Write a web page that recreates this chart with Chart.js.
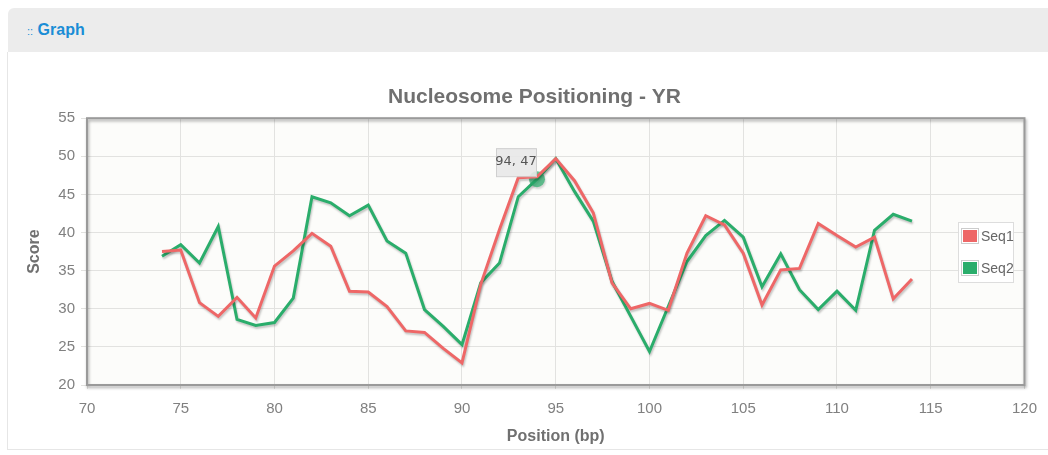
<!DOCTYPE html>
<html>
<head>
<meta charset="utf-8">
<title>Nucleosome Positioning - YR</title>
<script src="https://cdn.jsdelivr.net/npm/chart.js@4.4.1/dist/chart.umd.min.js"></script>
<style>
  html, body { margin: 0; padding: 0; background: #fff; width: 1048px; height: 455px; overflow: hidden; }
  .head { position: absolute; left: 8px; top: 8px; width: 1040px; height: 44px; background: #ececec; border-top-left-radius: 6px; }
  .head span { position: absolute; left: 19px; top: 13px; font: bold 16px "Liberation Sans", Arial, sans-serif; color: #1a8dd6; }
  .head small { font-size: 11px; font-weight: normal; }
  .panel { position: absolute; left: 7px; top: 52px; width: 1041px; height: 397px; border-left: 1px solid #e6e6e6; border-bottom: 1px solid #e6e6e6; }
  #nucChart { position: absolute; left: 0; top: 0; }
</style>
</head>
<body>
<div class="head"><span><small>::</small> Graph</span></div>
<div class="panel"></div>
<canvas id="nucChart" width="1048" height="455"></canvas>
<script>
// positions (bp) and scores
const positions = [74, 75, 76, 77, 78, 79, 80, 81, 82, 83, 84, 85, 86, 87, 88, 89, 90, 91, 92, 93, 94,
                   95, 96, 97, 98, 99, 100, 101, 102, 103, 104, 105, 106, 107, 108, 109, 110, 111, 112, 113, 114];
const seq1 = [37.5, 37.7, 30.8, 29.0, 31.5, 28.8, 35.6, 37.6, 39.9, 38.2, 32.3, 32.2, 30.3, 27.1, 26.9, 24.8, 22.9,
              33.2, 40.4, 47.2, 47.3, 49.7, 46.8, 42.6, 33.4, 30.0, 30.7, 29.8, 37.3, 42.2, 41.0, 37.3, 30.5,
              35.1, 35.3, 41.2, 39.6, 38.1, 39.4, 31.3, 33.9];
const seq2 = [36.9, 38.4, 36.0, 40.8, 28.6, 27.8, 28.2, 31.4, 44.7, 43.9, 42.2, 43.6, 38.9, 37.3, 29.9, 27.7, 25.3,
              33.4, 36.0, 44.7, 47.0, 49.7, 45.4, 41.5, 33.6, 29.0, 24.4, 30.3, 36.2, 39.6, 41.6, 39.4, 32.9,
              37.2, 32.5, 29.9, 32.3, 29.8, 40.3, 42.4, 41.5];
const seriesNames = ['Seq1', 'Seq2'];
const xTicks = [70, 75, 80, 85, 90, 95, 100, 105, 110, 115, 120];
const yTicks = [20, 25, 30, 35, 40, 45, 50, 55];
const hoverPos = 94; // highlighted point of Seq2

const red = '#ee6767';
const green = '#2aad6b';

function toPoints(values) {
    return positions.map((p, i) => ({ x: p, y: values[i] }));
}

// plot background, framed border and shadowed lines
const plotDecor = {
    id: 'plotDecor',
    afterLayout(chart) {
        // centre the title over the whole panel, not only the chart box
        if (chart.titleBlock) {
            chart.titleBlock.left = 44;
            chart.titleBlock.right = 1025;
        }
    },
    beforeDraw(chart) {
        const { ctx, chartArea: a } = chart;
        ctx.save();
        ctx.fillStyle = '#fcfcfa';
        ctx.fillRect(a.left, a.top, a.right - a.left, a.bottom - a.top);
        ctx.restore();
    },
    beforeDatasetsDraw(chart) {
        const { ctx, chartArea: a } = chart;
        ctx.save();
        ctx.shadowColor = 'rgba(0,0,0,0.35)';
        ctx.shadowBlur = 3;
        ctx.shadowOffsetX = 1;
        ctx.shadowOffsetY = 2;
        ctx.strokeStyle = '#9a9a9a';
        ctx.lineWidth = 2;
        ctx.strokeRect(a.left, a.top, a.right - a.left, a.bottom - a.top);
        ctx.restore();
    },
    beforeDatasetDraw(chart) {
        const ctx = chart.ctx;
        ctx.save();
        ctx.shadowColor = 'rgba(0,0,0,0.22)';
        ctx.shadowBlur = 2;
        ctx.shadowOffsetX = 1;
        ctx.shadowOffsetY = 2;
    },
    afterDatasetDraw(chart) {
        chart.ctx.restore();
    }
};

// flot-like legend box inside the plot, and the hover label
const overlay = {
    id: 'overlay',
    afterDraw(chart) {
        const { ctx } = chart;
        const sets = chart.data.datasets;

        // legend
        const lx = 958, ly = 222, lw = 55, lh = 60;
        ctx.save();
        ctx.fillStyle = 'rgba(255,255,255,0.85)';
        ctx.fillRect(lx, ly, lw, lh);
        ctx.strokeStyle = '#dddddd';
        ctx.lineWidth = 1;
        ctx.strokeRect(lx + 0.5, ly + 0.5, lw, lh);
        ctx.font = '14px "Liberation Sans", Arial, sans-serif';
        ctx.textBaseline = 'middle';
        sets.forEach((ds, i) => {
            const y = ly + 14 + i * 32;
            ctx.fillStyle = '#ffffff';
            ctx.fillRect(lx + 3, y - 8, 18, 16);
            ctx.strokeStyle = '#cccccc';
            ctx.strokeRect(lx + 3.5, y - 7.5, 17, 15);
            ctx.fillStyle = ds.borderColor;
            ctx.fillRect(lx + 5, y - 6, 14, 12);
            ctx.fillStyle = '#666666';
            ctx.fillText(ds.label, lx + 23, y + 1);
        });

        // hover label for Seq2
        const idx = positions.indexOf(hoverPos);
        const px = chart.scales.x.getPixelForValue(hoverPos);
        const py = chart.scales.y.getPixelForValue(seq2[idx]);
        const text = hoverPos + ', ' + Math.round(seq2[idx]);
        const bw = 40, bh = 28;
        const bx = px - bw - 1, by = py - bh - 3;
        ctx.fillStyle = 'rgba(232,232,232,0.9)';
        ctx.fillRect(bx, by, bw, bh);
        ctx.strokeStyle = '#cfcfcf';
        ctx.strokeRect(bx + 0.5, by + 0.5, bw, bh);
        ctx.fillStyle = '#555555';
        ctx.font = '13px "DejaVu Sans", sans-serif';
        ctx.textAlign = 'center';
        ctx.fillText(text, bx + bw / 2, by + bh / 2 - 1);
        ctx.restore();
    }
};

new Chart(document.getElementById('nucChart'), {
    type: 'line',
    data: {
        datasets: [
            {
                label: seriesNames[0],
                data: toPoints(seq1),
                borderColor: red,
                backgroundColor: red,
                borderWidth: 3,
                pointRadius: 0,
                tension: 0,
                fill: false
            },
            {
                label: seriesNames[1],
                data: toPoints(seq2),
                borderColor: green,
                backgroundColor: 'rgba(42,173,107,0.7)',
                borderWidth: 3,
                pointRadius: ctx => (ctx.raw && ctx.raw.x === hoverPos ? 8 : 0),
                pointBorderWidth: 0,
                tension: 0,
                fill: false
            }
        ]
    },
    options: {
        responsive: false,
        animation: false,
        events: [],
        layout: { padding: { left: 0, right: 23, top: 0, bottom: 5 } },
        plugins: {
            legend: { display: false },
            tooltip: { enabled: false },
            title: {
                display: true,
                text: 'Nucleosome Positioning - YR',
                color: '#707070',
                font: { family: '"Liberation Sans", Arial, sans-serif', size: 21, weight: 'bold' },
                padding: { top: 85, bottom: 8 }
            }
        },
        scales: {
            x: {
                type: 'linear',
                min: xTicks[0],
                max: xTicks[xTicks.length - 1],
                afterBuildTicks: scale => { scale.ticks = xTicks.map(v => ({ value: v })); },
                afterFit: scale => { scale.height = 65; },
                grid: { color: '#e2e2e0', lineWidth: 1, tickLength: 4, drawTicks: true },
                border: { display: false },
                ticks: {
                    color: '#808080',
                    padding: 11,
                    font: { family: '"Liberation Sans Narrow", "Arial Narrow", "Liberation Sans", sans-serif', size: 15 }
                },
                title: {
                    display: true,
                    text: 'Position (bp)',
                    color: '#707070',
                    font: { family: '"Liberation Sans", Arial, sans-serif', size: 16, weight: 'bold' },
                    padding: { top: 0, bottom: 4 }
                }
            },
            y: {
                min: yTicks[0],
                max: yTicks[yTicks.length - 1],
                afterBuildTicks: scale => { scale.ticks = yTicks.map(v => ({ value: v })); },
                afterFit: scale => { scale.width = 87; },
                grid: { color: '#e2e2e0', lineWidth: 1, tickLength: 6 },
                border: { display: false },
                ticks: {
                    color: '#808080',
                    padding: 6,
                    font: { family: '"Liberation Sans", Arial, sans-serif', size: 15 }
                },
                title: {
                    display: true,
                    text: 'Score',
                    color: '#707070',
                    font: { family: '"Liberation Sans", Arial, sans-serif', size: 16, weight: 'bold' },
                    padding: { top: 25, bottom: 0 }
                }
            }
        }
    },
    plugins: [plotDecor, overlay]
});
</script>
</body>
</html>
